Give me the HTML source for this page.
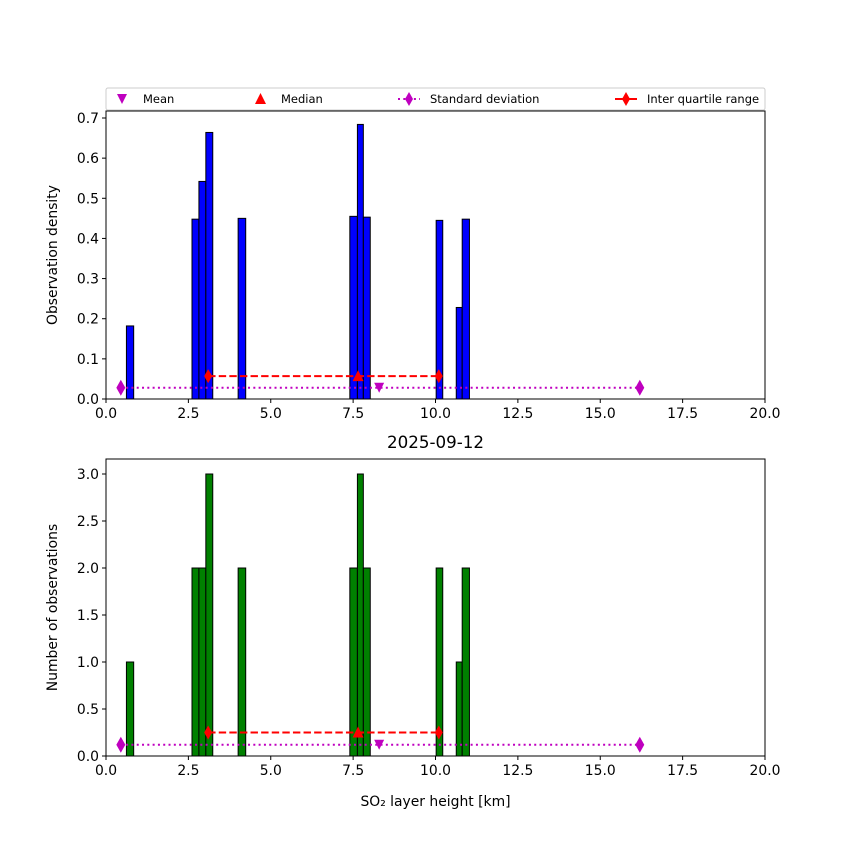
<!DOCTYPE html>
<html><head><meta charset="utf-8"><style>
body{margin:0;background:#fff}
svg{display:block;font-family:"DejaVu Sans","Liberation Sans",sans-serif}
</style></head><body>
<svg id="c" width="850" height="850" viewBox="0 0 850 850"></svg>
<script>
const binLeft=[0.62,2.61,2.82,3.03,4.01,7.40,7.63,7.81,10.02,10.63,10.81];
const binRight=[0.84,2.82,3.03,3.24,4.24,7.63,7.81,8.02,10.22,10.81,11.03];
const density=[0.182,0.448,0.542,0.664,0.450,0.455,0.684,0.453,0.445,0.228,0.448];
const counts=[1,2,2,3,2,2,3,2,2,1,2];
const meanX=8.29, medianX=7.65, q1X=3.1, q3X=10.1, sdLo=0.45, sdHi=16.2;
const topMarkY=[0.028,0.057], botMarkY=[0.12,0.25];
const xTicks=[0,2.5,5,7.5,10,12.5,15,17.5,20];
const topYTicks=[0,0.1,0.2,0.3,0.4,0.5,0.6,0.7];
const botYTicks=[0,0.5,1,1.5,2,2.5,3];
const NS="http://www.w3.org/2000/svg";
const svg=document.getElementById('c');
function el(t,a,p){const e=document.createElementNS(NS,t);for(const k in a)e.setAttribute(k,a[k]);(p||svg).appendChild(e);return e;}
const X0=106,X1=765;
const xs=v=>X0+(v/20)*(X1-X0);
function panel(name,top,bottom,ymax,ticks,vals,color,ylabel,mk){
  const g=el('g',{});
  
  
  const ys=v=>bottom-(v/ymax)*(bottom-top);
  for(let i=0;i<vals.length;i++){
    const r=el('rect',{x:xs(binLeft[i]),y:ys(vals[i]),width:xs(binRight[i])-xs(binLeft[i]),height:bottom-ys(vals[i]),fill:color,stroke:'#000','stroke-width':1},g);
    
    
  }
  const sy=ys(mk[0]);
  el('line',{x1:xs(sdLo),x2:xs(sdHi),y1:sy,y2:sy,stroke:'#bf00bf','stroke-width':2,'stroke-dasharray':'2,3.3'},g);
  [sdLo,sdHi].forEach(v=>{const d=el('path',{d:`M${xs(v)},${sy-8}L${xs(v)+4.5},${sy}L${xs(v)},${sy+8}L${xs(v)-4.5},${sy}Z`,fill:'#bf00bf'},g);});
  const my=ys(mk[0]);
  const m=el('path',{d:`M${xs(meanX)-5},${my-5}L${xs(meanX)+5},${my-5}L${xs(meanX)},${my+5}Z`,fill:'#bf00bf'},g);
  
  const iy=ys(mk[1]);
  el('line',{x1:xs(q1X),x2:xs(q3X),y1:iy,y2:iy,stroke:'#ff0000','stroke-width':2,'stroke-dasharray':'7.4,3.2'},g);
  [q1X,q3X].forEach(v=>{const d=el('path',{d:`M${xs(v)},${iy-7}L${xs(v)+4},${iy}L${xs(v)},${iy+7}L${xs(v)-4},${iy}Z`,fill:'#ff0000'},g);});
  const md=el('path',{d:`M${xs(medianX)-5.5},${iy+5}L${xs(medianX)+5.5},${iy+5}L${xs(medianX)},${iy-6}Z`,fill:'#ff0000'},g);
  
  el('rect',{x:X0,y:top,width:X1-X0,height:bottom-top,fill:'none',stroke:'#000','stroke-width':1},g);
  xTicks.forEach(v=>{el('line',{x1:xs(v),x2:xs(v),y1:bottom,y2:bottom+4,stroke:'#000'},g);
    const t=el('text',{x:xs(v),y:bottom+19,'font-size':13.9,'text-anchor':'middle'},g);t.textContent=v.toFixed(1);
    });
  ticks.forEach(v=>{el('line',{x1:X0-4,x2:X0,y1:ys(v),y2:ys(v),stroke:'#000'},g);
    const t=el('text',{x:X0-7,y:ys(v)+5,'font-size':13.9,'text-anchor':'end'},g);t.textContent=v.toFixed(1);
    });
  const yl=el('text',{x:0,y:0,'font-size':13.9,'text-anchor':'middle',transform:`translate(57,${(top+bottom)/2}) rotate(-90)`},g);
  yl.textContent=ylabel;
}
panel('density-panel',111,399,0.7*(399-111)/(399-118),topYTicks,density,'#0000ff','Observation density',topMarkY);
panel('count-panel',459,756,3*(756-459)/(756-474),botYTicks,counts,'#008000','Number of observations',botMarkY);
const ti=el('text',{x:435.5,y:448,'font-size':16.7,'text-anchor':'middle'});ti.textContent='2025-09-12';

const xl=el('text',{x:435.5,y:806,'font-size':13.9,'text-anchor':'middle'});xl.textContent='SO₂ layer height [km]';

const lg=el('g',{});

el('rect',{x:106,y:88,width:659,height:22,fill:'#fff',stroke:'#ccc','stroke-width':1,rx:2},lg);
const ly=99;
el('path',{d:`M117,${ly-5}L127,${ly-5}L122,${ly+5}Z`,fill:'#bf00bf'},lg);
el('path',{d:`M255,${ly+5}L266,${ly+5}L260.5,${ly-6}Z`,fill:'#ff0000'},lg);
el('line',{x1:398,x2:420,y1:ly,y2:ly,stroke:'#bf00bf','stroke-width':2,'stroke-dasharray':'2,3.3'},lg);
el('path',{d:`M409,${ly-7}L413,${ly}L409,${ly+7}L405,${ly}Z`,fill:'#bf00bf'},lg);
el('line',{x1:615,x2:637,y1:ly,y2:ly,stroke:'#ff0000','stroke-width':2},lg);
el('path',{d:`M626,${ly-7}L630,${ly}L626,${ly+7}L622,${ly}Z`,fill:'#ff0000'},lg);
[['Mean',143],['Median',281],['Standard deviation',430],['Inter quartile range',647]].forEach(([s,x])=>{
  const t=el('text',{x:x,y:ly+4,'font-size':11.5},lg);t.textContent=s;
  });
</script>
</body></html>
